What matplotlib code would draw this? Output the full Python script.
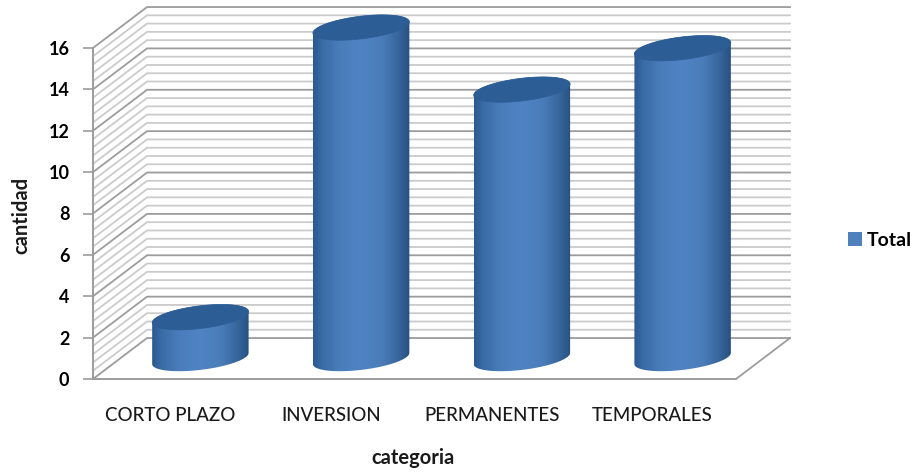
import numpy as np
import matplotlib
matplotlib.use("Agg")
import matplotlib.pyplot as plt
from matplotlib.colors import LinearSegmentedColormap
from matplotlib.patches import Patch, Polygon
from matplotlib.transforms import ScaledTranslation

categories = ["CORTO PLAZO", "INVERSION", "PERMANENTES", "TEMPORALES"]
values = [2, 16, 13, 15]
y_ticks = [0, 2, 4, 6, 8, 10, 12, 14, 16]
series_name = "Total"

W, H = 917, 474
# 3d look: back wall is the front plane shifted by this much (data units)
DX, DY = 0.336, 1.98
HALF_W, TILT, HALF_H = 0.30, 0.27, 0.55

plt.rcParams["font.family"] = ["Lato", "DejaVu Sans"]
fig = plt.figure(figsize=(W / 100, H / 100), dpi=100)
ax = fig.add_axes([93 / W, 1 - 379 / H, 643 / W, 331 / H])
ax.patch.set_alpha(0)

major = "#9c9c9c"
minor = "#cbcbcb"
levels = np.arange(0, 16.01, 0.4)
for lev in levels:
    is_major = abs(lev / 2 - round(lev / 2)) < 1e-6
    c = major if is_major else minor
    ax.plot([-0.5, -0.5 + DX, 3.5 + DX], [lev, lev + DY, lev + DY], color=c, lw=1.3,
            clip_on=False, zorder=1, solid_joinstyle="miter")

# floor edge
ax.plot([3.5, 3.5 + DX], [0, DY], color=major, lw=1.3, clip_on=False, zorder=1)

cmap = LinearSegmentedColormap.from_list(
    "cyl", [(0, "#2a5a90"), (0.1, "#3a6ca6"), (0.28, "#4a7dba"), (0.5, "#4f83c3"),
            (0.72, "#4a7cb8"), (0.9, "#356399"), (1, "#27507f")])
grad = np.linspace(0, 1, 200).reshape(1, -1)
t = np.linspace(0, 2 * np.pi, 181)

for i, v in enumerate(values):
    cx = i + DX / 2
    y0 = DY / 2
    y1 = v + DY / 2
    ex = cx + HALF_W * np.cos(t)
    ey = TILT * np.cos(t) + HALF_H * np.sin(t)
    # body = lower half of base ellipse joined up to the top ellipse
    low = (t >= np.pi)
    bx = np.r_[ex[low], ex[~low]]
    by = np.r_[y0 + ey[low], y1 + ey[~low]]
    body = Polygon(np.c_[bx, by], closed=True, fc="none", ec="none", transform=ax.transData)
    ax.add_patch(body)
    im = ax.imshow(grad, extent=[cx - HALF_W, cx + HALF_W, y0 - 1, y1 + 1], aspect="auto",
                   cmap=cmap, zorder=3, interpolation="bilinear")
    im.set_clip_box(fig.bbox)
    im.set_clip_path(body)
    top = Polygon(np.c_[ex, y1 + ey], closed=True, fc="#2c5d95", ec="#2c5d95", lw=0.5,
                  zorder=4, clip_on=False)
    ax.add_patch(top)

ax.set_xlim(-0.5, 3.5)
ax.set_ylim(0, 16)
ax.set_xticks(range(len(categories)))
ax.set_xticklabels(categories, fontsize=13.5, color="#1a1a1a", fontweight="medium")
ax.set_yticks(y_ticks)
ax.tick_params(axis="x", length=0, pad=20)
ax.tick_params(axis="y", length=7, width=1.2, color=major, labelsize=13, pad=10)
for lab in ax.get_yticklabels():
    lab.set_fontweight("bold")
# labels sit a little left of the column slots
nudge = ScaledTranslation(-3 / 100, 0, fig.dpi_scale_trans)
for lab in ax.get_xticklabels():
    lab.set_transform(lab.get_transform() + nudge)
for s in ["top", "right"]:
    ax.spines[s].set_visible(False)
for s in ["left", "bottom"]:
    ax.spines[s].set_color(major)
    ax.spines[s].set_linewidth(1.4)

fig.text(21 / W, 1 - 215 / H, "cantidad", rotation=90, ha="center", va="center",
         fontsize=14.5, fontweight="bold", color="#1a1a1a")
fig.text(413 / W, 1 - 458 / H, "categoria", ha="center", va="center",
         fontsize=14.5, fontweight="bold", color="#1a1a1a")

handle = Patch(facecolor="#4f81bd", edgecolor="none", label=series_name)
fig.legend(handles=[handle], loc="center left", bbox_to_anchor=(848 / W, 1 - 240 / H),
           frameon=False, handlelength=0.7, handleheight=0.7,
           handletextpad=0.25, borderpad=0, borderaxespad=0, prop={"size": 14, "weight": "bold"})

fig.savefig("out.png", dpi=100)
